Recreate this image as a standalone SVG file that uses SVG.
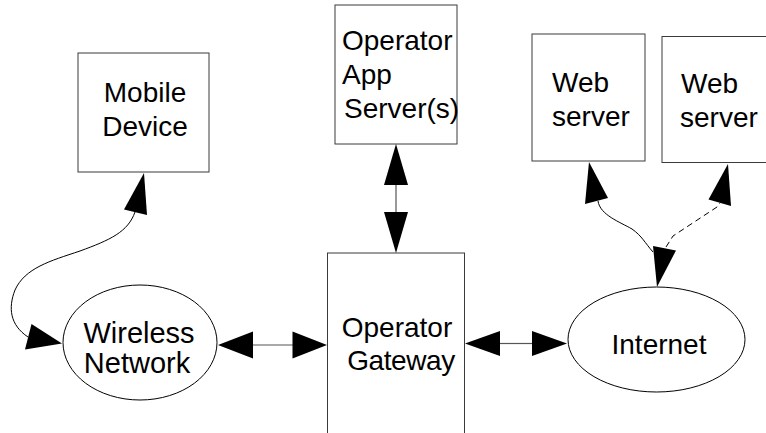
<svg xmlns="http://www.w3.org/2000/svg" width="766" height="433" viewBox="0 0 766 433">
  <style>
    .box { fill: #ffffff; stroke: #3a3a3a; stroke-width: 1; }
    .oval { fill: #ffffff; stroke: #000000; stroke-width: 1; }
    .lbl { font-family: "Liberation Sans", Arial, sans-serif; font-size: 28px; fill: #000000; }
    .big { font-size: 29px; }
    .mid { text-anchor: middle; }
    .wire { fill: none; stroke: #000000; stroke-width: 1; }
    .straight { fill: none; stroke: #555555; stroke-width: 1.2; }
    .dash { fill: none; stroke: #000000; stroke-width: 1; stroke-dasharray: 6 4; }
    .head { fill: #000000; stroke: none; }
  </style>

  <rect x="0" y="0" width="766" height="433" fill="#ffffff"/>

  <g id="mobile-device">
    <rect class="box" x="78" y="53" width="131" height="119"/>
    <text class="lbl mid" x="145" y="102">Mobile</text>
    <text class="lbl mid" x="145" y="136">Device</text>
  </g>

  <g id="operator-app-servers">
    <rect class="box" x="335" y="5" width="122" height="139"/>
    <text class="lbl" x="342" y="50">Operator</text>
    <text class="lbl" x="342" y="84">App</text>
    <text class="lbl" x="344" y="118">Server(s)</text>
  </g>

  <g id="web-server-1">
    <rect class="box" x="532" y="34" width="113" height="127"/>
    <text class="lbl" x="552" y="92">Web</text>
    <text class="lbl" x="552" y="126">server</text>
  </g>

  <g id="web-server-2">
    <rect class="box" x="662" y="36.5" width="120" height="126"/>
    <text class="lbl" x="681" y="92.5">Web</text>
    <text class="lbl" x="680" y="126.5">server</text>
  </g>

  <g id="wireless-network">
    <ellipse class="oval" cx="140" cy="342.5" rx="77" ry="57.5"/>
    <text class="lbl big mid" x="139" y="342.5">Wireless</text>
    <text class="lbl big mid" x="137" y="372.5">Network</text>
  </g>

  <g id="operator-gateway">
    <rect class="box" x="327.5" y="253" width="137" height="190"/>
    <text class="lbl mid" x="397" y="337">Operator</text>
    <text class="lbl mid" x="401" y="370" letter-spacing="-0.4">Gateway</text>
  </g>

  <g id="internet">
    <ellipse class="oval" cx="656.5" cy="339.5" rx="88.5" ry="52.5"/>
    <text class="lbl mid" x="659" y="354">Internet</text>
  </g>

  <g id="connectors">
    <!-- Mobile Device <-> Wireless Network -->
    <path class="wire" d="M135,212 C128,232 110,240 80,251 C50,261 25,268 15,290 C8,308 10,325 28,337"/>
    <polygon class="head" points="144,173 124,209.5 147,215"/>
    <polygon class="head" points="62,343.5 31.5,324 25,349.5"/>

    <!-- Wireless Network <-> Operator Gateway -->
    <line class="straight" x1="253" y1="345" x2="293" y2="345"/>
    <polygon class="head" points="218,345 253,331.5 253,358.5"/>
    <polygon class="head" points="327,345 292.5,331.5 292.5,358.5"/>

    <!-- Operator App Server(s) <-> Operator Gateway -->
    <line class="straight" x1="396" y1="185" x2="396" y2="212"/>
    <polygon class="head" points="396,144 384,185 408,185"/>
    <polygon class="head" points="396,253 384,212 408,212"/>

    <!-- Operator Gateway <-> Internet -->
    <line class="straight" x1="500" y1="343.5" x2="532" y2="343.5"/>
    <polygon class="head" points="465,343.5 500,331 500,356"/>
    <polygon class="head" points="567,343.5 532,331 532,356"/>

    <!-- Internet <-> Web server (solid) -->
    <path class="wire" d="M598,201 C600,215 620,222 632,229 C642,236 645,243 653,252"/>
    <polygon class="head" points="589,162 585,204 608,198"/>
    <polygon class="head" points="657,287 653,246 676,250.5"/>

    <!-- Internet to second Web server (dashed) -->
    <path class="dash" d="M666,247 L673,236 L717,207 L720,203"/>
    <polygon class="head" points="728,164 708.5,199.5 731,206"/>
  </g>
</svg>
